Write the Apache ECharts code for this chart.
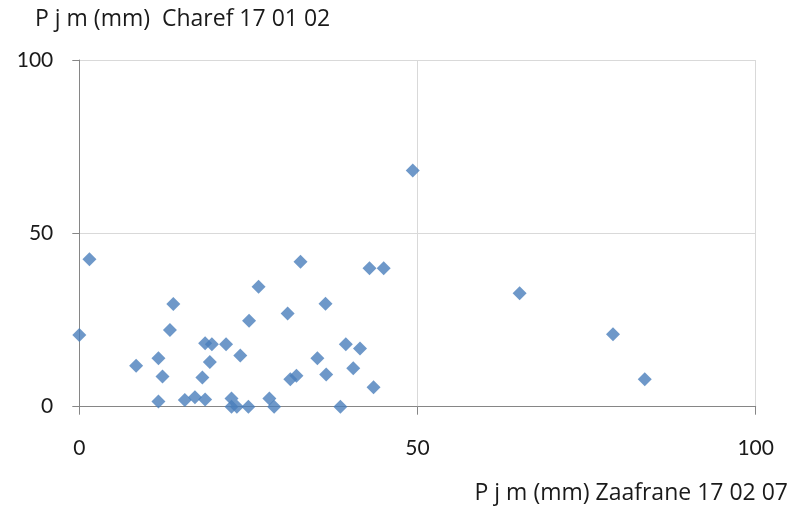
<!DOCTYPE html>
<html>
<head>
<meta charset="utf-8">
<script src="https://cdn.jsdelivr.net/npm/echarts@6/dist/echarts.min.js"></script>
<style>
html,body{margin:0;padding:0;background:#fff;}
#chart{width:799px;height:508px;}
</style>
</head>
<body>
<div id="chart"></div>
<script>
// Zaafrane (x) vs Charef (y), daily rainfall in mm
const xValues = [1.5, 0, 13.9, 13.4, 8.4, 11.7, 12.3, 11.7, 15.6, 17.1, 18.6, 18.6, 19.6, 19.3, 18.2, 21.7, 23.8, 25.1, 22.5, 22.5, 23.3, 25.0, 26.5,
  49.3, 32.7, 42.9, 45.0, 36.4, 30.8, 35.2, 39.4, 41.5, 40.5, 36.5, 31.2, 32.1, 43.5, 28.1, 28.8, 38.6,
  65.1, 78.9, 83.6];
const yValues = [42.5, 20.7, 29.6, 22.1, 11.8, 14.0, 8.7, 1.5, 1.9, 2.7, 2.1, 18.3, 18.0, 12.9, 8.4, 18.0, 14.8, 24.8, 2.4, 0, 0, 0, 34.6,
  68.1, 41.8, 39.9, 39.9, 29.7, 26.9, 14.0, 18.0, 16.8, 11.1, 9.3, 7.9, 8.9, 5.6, 2.4, 0, 0,
  32.7, 20.9, 7.9];
const axisTicks = [0, 50, 100];
const yTitle = 'P j m (mm)  Charef 17 01 02';
const xTitle = 'P j m (mm) Zaafrane 17 02 07';

const points = xValues.map((x, i) => [x, yValues[i]]);
const textColor = '#1a1a1a';
const font = 'Lato';
const titleFont = 'Open Sans';

const chart = echarts.init(document.getElementById('chart'), null, {renderer: 'canvas'});
chart.setOption({
  animation: false,
  backgroundColor: '#ffffff',
  title: [
    {text: yTitle, left: 35, top: 8, padding: 0,
     textStyle: {fontFamily: titleFont, fontSize: 23, fontWeight: 'normal', color: textColor}},
    {text: xTitle, right: 11, top: 482, padding: 0,
     textStyle: {fontFamily: titleFont, fontSize: 23, fontWeight: 'normal', color: textColor}}
  ],
  grid: {left: 79.3, right: 43.3, top: 60, bottom: 101.3, outerBoundsMode: 'none', containLabel: false},
  xAxis: {
    type: 'value', min: axisTicks[0], max: axisTicks[axisTicks.length - 1], interval: 50,
    axisLine: {show: true, lineStyle: {color: '#868686', width: 1}},
    axisTick: {show: true, inside: false, length: 8, lineStyle: {color: '#868686'}},
    axisLabel: {margin: 31, fontFamily: font, fontSize: 21, color: textColor},
    splitLine: {show: true, lineStyle: {color: '#d9d9d9', width: 1}}
  },
  yAxis: {
    type: 'value', min: axisTicks[0], max: axisTicks[axisTicks.length - 1], interval: 50,
    axisLine: {show: true, lineStyle: {color: '#868686', width: 1}},
    axisTick: {show: true, inside: false, length: 7, lineStyle: {color: '#868686'}},
    axisLabel: {margin: 26, fontFamily: font, fontSize: 21, color: textColor},
    splitLine: {show: true, lineStyle: {color: '#d9d9d9', width: 1}}
  },
  series: [{
    type: 'scatter',
    data: points,
    symbol: 'diamond',
    symbolSize: 14,
    itemStyle: {color: '#4a7ebb'},
    clip: false
  }]
});
</script>
</body>
</html>
